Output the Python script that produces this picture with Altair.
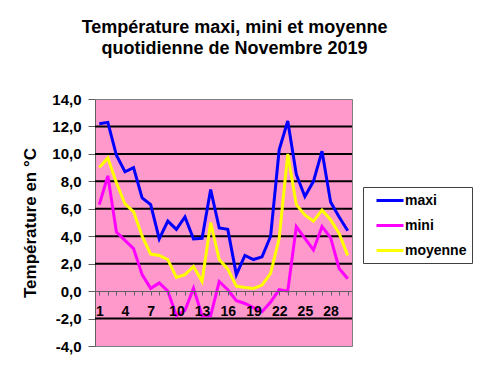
import altair as alt
import pandas as pd

days = list(range(1, 31))
maxi = [12.2, 12.3, 9.9, 8.7, 9.0, 6.8, 6.3, 3.8, 5.1, 4.5, 5.4, 3.8, 3.85, 7.4, 4.6,
        4.5, 1.2, 2.6, 2.3, 2.5, 4.0, 10.3, 12.4, 8.5, 6.9, 8.0, 10.2, 6.5, 5.4, 4.4]
mini = [6.3, 8.4, 4.3, 3.7, 3.1, 1.2, 0.2, 0.6, 0.0, -1.8, -1.4, 0.2, -1.8, -1.8, 0.7,
        0.1, -0.7, -0.9, -1.2, -1.5, -0.8, 0.1, 0.0, 4.7, 3.85, 3.0, 4.7, 3.9, 1.65, 0.9]
moyenne = [9.0, 9.7, 7.9, 6.35, 5.8, 4.0, 2.7, 2.6, 2.3, 1.0, 1.2, 1.8, 0.7, 5.0, 2.3,
           1.6, 0.36, 0.27, 0.2, 0.44, 1.3, 3.85, 10.0, 6.3, 5.55, 5.1, 5.9, 5.2, 4.2, 2.6]
series_names = ["maxi", "mini", "moyenne"]
series_colors = ["#0000FF", "#FF00FF", "#FFFF00"]
grid_values = [12, 10, 8, 6, 4, 2, -2]
y_ticks = [-4, -2, 0, 2, 4, 6, 8, 10, 12, 14]

rows = []
for name, vals in zip(series_names, [maxi, mini, moyenne]):
    for d, v in zip(days, vals):
        rows.append({"jour": d, "temp": v, "serie": name})
df = pd.DataFrame(rows)
grid_df = pd.DataFrame({"g": grid_values})

FONT = "Liberation Sans"
yscale = alt.Scale(domain=[-4, 14], nice=False, zero=False)
xscale = alt.Scale(domain=[0.5, 30.5], nice=False, zero=False)

yaxis = alt.Axis(values=y_ticks, grid=False, title="Température en °C",
                 labelExpr="(datum.value < 0 ? '-' : '') + replace(format(abs(datum.value), '.1f'), '.', ',')",
                 labelFont=FONT, labelFontSize=15, labelFontWeight="bold",
                 labelColor="black", tickSize=7, tickColor="#606060",
                 domainColor="#606060", labelPadding=7,
                 titleFont=FONT, titleFontSize=17, titleFontWeight="bold",
                 titleColor="black", titlePadding=12)

grid = alt.Chart(grid_df).mark_rule(color="black", strokeWidth=2).encode(
    y=alt.Y("g:Q", scale=yscale, axis=yaxis)
)

lines = alt.Chart(df).mark_line(strokeWidth=3).encode(
    x=alt.X("jour:Q", scale=xscale,
            axis=alt.Axis(values=days, title=None, grid=False, offset=-55,
                          domainColor="#606060", tickColor="#606060", tickSize=4,
                          labelExpr="(datum.value - 1) % 3 == 0 ? datum.value : ''",
                          labelFont=FONT, labelFontSize=14, labelFontWeight="bold",
                          labelColor="black", labelPadding=9, labelOverlap=False,
                          labelFlush=False, zindex=2)),
    y=alt.Y("temp:Q", scale=yscale, axis=yaxis),
    color=alt.Color("serie:N",
                    scale=alt.Scale(domain=series_names, range=series_colors),
                    legend=alt.Legend(orient="none", legendX=268, legendY=88, title=None,
                                      symbolType="M0,0H3.86", symbolSize=196,
                                      symbolStrokeWidth=3, labelOffset=20,
                                      labelFont=FONT, labelFontSize=14,
                                      labelFontWeight="bold", labelColor="black",
                                      strokeColor="#404040", fillColor="white",
                                      padding=5, rowPadding=9)),
    order=alt.Order("jour:Q"),
)

chart = alt.layer(grid, lines).properties(
    width=257, height=247,
    autosize=alt.AutoSizeParams(type="none"),
    padding={"left": 87, "top": 91, "right": 122, "bottom": 20},
    view=alt.ViewBackground(fill="#FF99CC", stroke="#808080", strokeWidth=1),
    title=alt.Title(["Température maxi, mini et moyenne", "quotidienne de Novembre 2019"],
                    font=FONT, fontSize=18, fontWeight="bold", color="black",
                    anchor="middle", frame="group", dx=11, offset=34, lineHeight=21),
).configure(background="white")

chart.save("out.html", embed_options={"renderer": "svg", "actions": False})
